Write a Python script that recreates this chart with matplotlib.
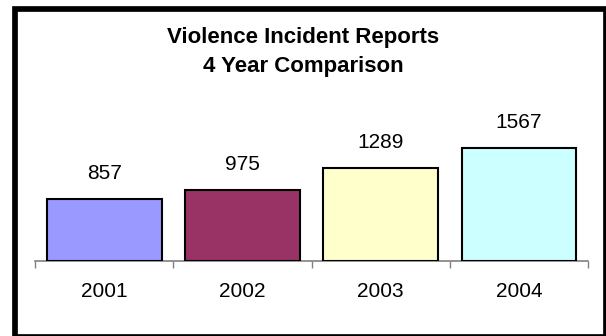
import matplotlib.pyplot as plt
from matplotlib.patches import Rectangle

years = ['2001', '2002', '2003', '2004']
reports = [857, 975, 1289, 1567]
bar_colors = ['#9999FF', '#993366', '#FFFFCC', '#CCFFFF']

plt.rcParams['font.family'] = ['Liberation Sans', 'DejaVu Sans']

W, H = 606, 336
fig = plt.figure(figsize=(W / 100, H / 100), dpi=100)
ax = fig.add_axes([0.0578, 0.2245, 0.9125, 0.428])

x = range(len(years))
bars = ax.bar(x, reports, width=0.83, color=bar_colors,
              edgecolor='black', linewidth=1.5, zorder=3)

for b, v in zip(bars, reports):
    ax.annotate(str(v), (b.get_x() + b.get_width() / 2, v),
                xytext=(0, 18.5), textcoords='offset points',
                ha='center', va='center', fontsize=15)

ax.set_xlim(-0.5, len(years) - 0.5)
ax.set_ylim(0, 2000)
ax.set_xticks(list(x))
ax.set_xticklabels(years, fontsize=15)
ax.set_xticks([i - 0.5 for i in range(len(years) + 1)], minor=True)
ax.tick_params(axis='x', which='major', length=0, pad=15.5)
ax.tick_params(axis='x', which='minor', length=5, color='#808080', width=1)
ax.set_yticks([])
for side in ['top', 'right', 'left']:
    ax.spines[side].set_visible(False)
ax.spines['bottom'].set_color('#808080')
ax.spines['bottom'].set_linewidth(1.2)
ax.patch.set_alpha(0)

fig.text(0.5, 1 - 43.3 / H, 'Violence Incident Reports', ha='center', va='baseline',
         fontsize=16, fontweight='bold')
fig.text(0.5, 1 - 72.3 / H, '4 Year Comparison', ha='center', va='baseline',
         fontsize=16, fontweight='bold')

# heavy chart frame; its right and bottom sides run off the canvas edge
left, top, right, bottom = 14.5, 8.5, 606.0, 336.6
fig.patches.append(Rectangle((left / W, 1 - bottom / H), (right - left) / W,
                             (bottom - top) / H, transform=fig.transFigure,
                             fill=False, edgecolor='black', linewidth=4.1,
                             joinstyle='miter'))

fig.savefig('out.png', dpi=100)
